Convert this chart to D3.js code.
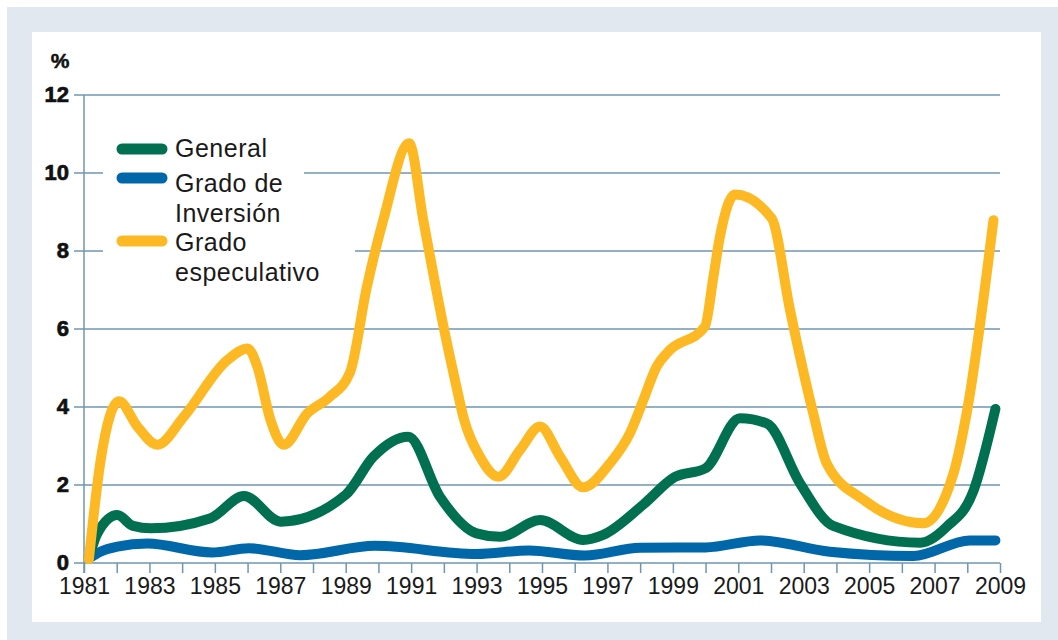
<!DOCTYPE html>
<html><head><meta charset="utf-8">
<script src="https://cdn.jsdelivr.net/npm/d3@7"></script>
<style>html,body{margin:0;padding:0;background:#fff;}svg{display:block;}</style>
</head><body>
<script>
// ---- Data ----
const yTicks = [0, 2, 4, 6, 8, 10, 12];
const xTickYears = d3.range(1981, 2010);
const xTickLabels = [1981,1983,1985,1987,1989,1991,1993,1995,1997,1999,2001,2003,2005,2007,2009];

const genYears  = [1981.15,1981.41,1982.02,1982.5,1983.04,1984.87,1985.89,1987.01,1989.0,1989.85,1990.91,1991.88,1993.0,1993.72,1994.94,1996.26,1996.87,1998.1,1999.05,2000.0,2001.05,2001.87,2002.89,2003.9,2006.56,2007.37,2008.19,2008.86];
const genValues = [0.12,0.76,1.23,0.95,0.89,1.15,1.72,1.06,1.75,2.73,3.24,1.7,0.76,0.67,1.1,0.59,0.72,1.5,2.2,2.43,3.71,3.58,2.04,0.95,0.52,0.93,1.85,3.95];

const invYears  = [1981.15,1981.5,1982.02,1982.93,1984.92,1986.04,1987.62,1989.9,1993.0,1994.6,1996.3,1998.0,2000.0,2001.67,2003.8,2006.35,2008.08,2008.86];
const invValues = [0.12,0.29,0.42,0.5,0.27,0.38,0.2,0.44,0.23,0.32,0.19,0.39,0.4,0.58,0.29,0.18,0.58,0.58];

const espYears  = [1981.15,1981.51,1982.07,1982.63,1983.24,1984.05,1985.38,1986.0,1986.3,1986.7,1987.1,1987.83,1988.5,1989.13,1989.64,1990.15,1990.94,1991.37,1991.99,1992.34,1992.62,1993.1,1993.67,1994.33,1994.94,1995.55,1996.26,1997.08,1997.69,1998.1,1998.5,1998.86,1999.98,2000.24,2000.44,2000.9,2002.02,2002.58,2003.29,2003.7,2004.83,2006.66,2007.58,2007.98,2008.8];
const espValues = [0.1,2.64,4.15,3.5,3.03,3.75,5.2,5.5,5.03,3.67,3.03,3.84,4.25,4.88,7.05,8.8,10.76,8.8,6.06,4.69,3.67,2.73,2.21,2.9,3.5,2.73,1.94,2.56,3.33,4.18,5.03,5.42,6.06,7.34,8.37,9.45,8.84,6.49,3.84,2.56,1.62,1.02,2.3,3.84,8.79];

const seriesNames = ["General", "Grado de Inversión", "Grado especulativo"];
const seriesColors = ["#007050", "#0067a8", "#fdb924"];

// ---- Drawing ----
const W = 1058, H = 640;
const svg = d3.select("body").append("svg").attr("width", W).attr("height", H);

svg.append("rect").attr("x", 7).attr("y", 7).attr("width", W - 7).attr("height", H - 7).attr("fill", "#e1e8f0");
svg.append("rect").attr("x", 32).attr("y", 32).attr("width", 1009).attr("height", 590).attr("fill", "#ffffff");

const x = d3.scaleLinear().domain([1981, 2009]).range([84, 1000]);
const y = d3.scaleLinear().domain([0, 12]).range([563, 95]);
const gridColor = "#6f96b1";

// gridlines
svg.append("g").selectAll("line").data(yTicks).join("line")
  .attr("x1", 74).attr("x2", 1000)
  .attr("y1", d => y(d)).attr("y2", d => y(d))
  .attr("stroke", gridColor).attr("stroke-width", 1.5);

// y axis line
svg.append("line").attr("x1", 84).attr("x2", 84).attr("y1", y(12)).attr("y2", y(0) + 10)
  .attr("stroke", gridColor).attr("stroke-width", 1.5);

// x axis ticks & labels
const xAxis = d3.axisBottom(x).tickValues(xTickYears).tickSize(10)
  .tickFormat(d => xTickLabels.includes(d) ? String(d) : "");
const gx = svg.append("g").attr("transform", `translate(0,${y(0)})`).call(xAxis);
gx.select(".domain").remove();
gx.selectAll(".tick line").attr("stroke", gridColor).attr("stroke-width", 1.5);
gx.selectAll(".tick text").attr("fill", "#1a1a1a").attr("y", 15)
  .style("font-family", "'Liberation Sans Narrow', 'Liberation Sans', sans-serif")
  .style("font-size", "23px").attr("dy", "0.71em");

// y labels
svg.append("g").selectAll("text").data(yTicks).join("text")
  .attr("x", 69).attr("y", d => y(d)).attr("dy", "0.3em")
  .attr("text-anchor", "end")
  .style("font-family", "'Liberation Sans', sans-serif").style("font-weight", "bold")
  .style("font-size", "22px").attr("fill", "#111").attr("stroke", "#111").attr("stroke-width", 0.7)
  .text(d => d);
svg.append("text").attr("x", 60).attr("y", 68).attr("text-anchor", "middle")
  .style("font-family", "'Liberation Sans', sans-serif").style("font-weight", "bold")
  .style("font-size", "21px").attr("fill", "#111").attr("stroke", "#111").attr("stroke-width", 0.5).text("%");

// legend background (breaks the gridlines)
svg.append("rect").attr("x", 103).attr("y", 130).attr("width", 201).attr("height", 98).attr("fill", "#fff");
svg.append("rect").attr("x", 103).attr("y", 228).attr("width", 252).attr("height", 60).attr("fill", "#fff");

// lines
const line = d3.line().x(d => x(d[0])).y(d => y(d[1])).curve(d3.curveMonotoneX);
const series = [
  {years: invYears, values: invValues, color: seriesColors[1]},
  {years: genYears, values: genValues, color: seriesColors[0]},
  {years: espYears, values: espValues, color: seriesColors[2]}
];
svg.append("g").selectAll("path").data(series).join("path")
  .attr("d", s => line(s.years.map((yr, i) => [yr, s.values[i]])))
  .attr("fill", "none").attr("stroke", s => s.color)
  .attr("stroke-width", 10).attr("stroke-linecap", "round").attr("stroke-linejoin", "round");

// legend
const legendItems = [
  {color: seriesColors[0], sy: 149, lines: ["General"], ty: 157},
  {color: seriesColors[1], sy: 178, lines: ["Grado de", "Inversión"], ty: 192},
  {color: seriesColors[2], sy: 241, lines: ["Grado", "especulativo"], ty: 251}
];
const lg = svg.append("g");
legendItems.forEach(it => {
  lg.append("line").attr("x1", 122).attr("x2", 162).attr("y1", it.sy).attr("y2", it.sy)
    .attr("stroke", it.color).attr("stroke-width", 11).attr("stroke-linecap", "round");
  it.lines.forEach((t, i) => {
    lg.append("text").attr("x", 175).attr("y", it.ty + i * 29.5)
      .style("font-family", "'Liberation Sans', sans-serif").style("font-size", "25px")
      .style("letter-spacing", "0.5px")
      .attr("fill", "#1a1a1a").text(t);
  });
});
</script>
</body></html>
